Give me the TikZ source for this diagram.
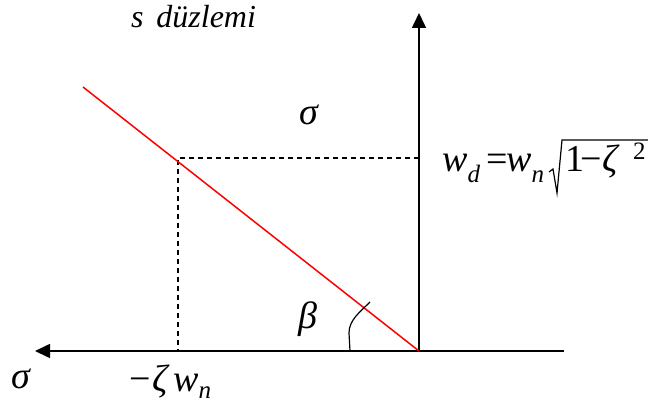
\documentclass[tikz,border=0pt]{standalone}
\usepackage{fontspec}
\setmainfont{Liberation Serif}
\usetikzlibrary{arrows.meta}
\newcommand\subsc[2][0.28em]{\raisebox{-#1}{\fontsize{25}{27}\selectfont #2}}
\begin{document}
\begin{tikzpicture}[x=1pt,y=-1pt,
  axis/.style={line width=1.6pt,-{Triangle[length=15pt,width=14pt]}},
  guide/.style={line width=1.3pt,dash pattern=on 5pt off 4pt},
  lbl/.style={inner sep=0pt,font=\fontsize{38}{42}\selectfont\itshape},
  small/.style={inner sep=0pt,font=\fontsize{32}{36}\selectfont\itshape}]
\useasboundingbox (0,0) rectangle (648,406);
\fill[white] (0,0) rectangle (648,406);
% coordinates
\coordinate (O) at (419,351);
\coordinate (top) at (419,13);
\coordinate (right) at (564,351);
\coordinate (left) at (35,351);
\coordinate (P) at (83,87);
\coordinate (C) at (178,158);
\coordinate (Cx) at (178,351);
\coordinate (Cy) at (419,158);
% axes
\draw[axis] (O) -- (top);
\draw[axis] (right) -- (left);
% dashed guides
\draw[guide] (Cy) -- (C) -- (Cx);
% red line
\draw[red,line width=1.5pt] (P) -- (O);
% angle mark
\coordinate (a0) at (350,351);
\coordinate (a1) at (349,333);
\coordinate (a2) at (370,302);
\draw[line width=1.2pt] (a0) -- (a1) .. controls (349,320) and (360,312) .. (a2);
% labels
\node[small,anchor=base west] (title) at (131,28) {s\hspace{0.15em} düzlemi};
\node[lbl,anchor=base west] (sig1) at (299,125) {σ};
\node[lbl,anchor=base west] (sig2) at (11,388) {σ};
\node[lbl,anchor=base west] (beta) at (298,328) {β};
\node[lbl,anchor=base west] (minus) at (129,391) {\upshape −};
\node[lbl,anchor=base west] (zeta) at (152,391) {ζ};
\node[lbl,anchor=base west] (wn2) at (173,391) {w\subsc[0.2em]{n}};
\node[lbl,anchor=base west] (wd) at (442,172) {w\subsc{d}};
\node[lbl,anchor=base west] (eq) at (486,172) {\upshape =};
\node[lbl,anchor=base west] (wn) at (506,172) {w\subsc{n}};
\draw[line width=1.2pt] (549,172) -- (553,169) -- (557,193) -- (562,140) -- (650,140);
\node[lbl,anchor=base west] (one) at (565,172) {\upshape 1};
\node[lbl,anchor=base west] (minus2) at (580,172) {\upshape −};
\node[lbl,anchor=base west] (zeta2) at (602,172) {ζ};
\node[inner sep=0pt,anchor=base west,font=\fontsize{25}{27}\selectfont] (two) at (633,160) {2};
\end{tikzpicture}
\end{document}
